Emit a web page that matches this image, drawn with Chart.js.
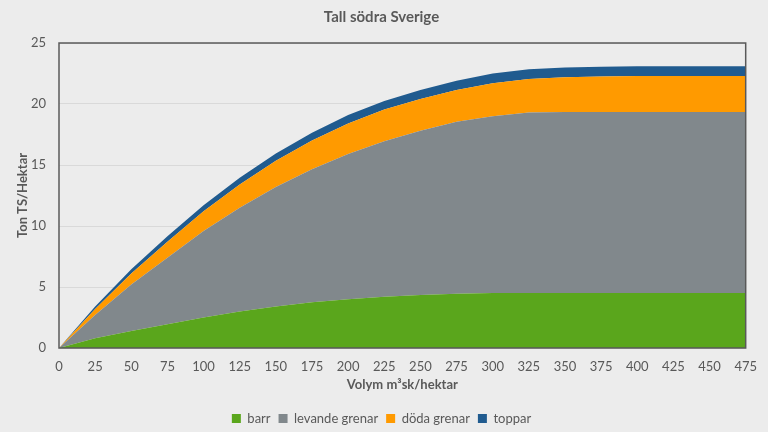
<!DOCTYPE html>
<html>
<head>
<meta charset="utf-8">
<script src="https://cdn.jsdelivr.net/npm/chart.js@4.4.1/dist/chart.umd.min.js"></script>
<style>
  html, body { margin: 0; padding: 0; background: #ececec; }
  #wrap { width: 768px; height: 432px; }
</style>
</head>
<body>
<div id="wrap"><canvas id="c" width="768" height="432"></canvas></div>
<script>
const volym = [0, 25, 50, 75, 100, 125, 150, 175, 200, 225, 250, 275, 300, 325, 350, 375, 400, 425, 450, 475];
const barr = [0, 0.8, 1.4, 1.95, 2.5, 3.0, 3.4, 3.75, 4.0, 4.2, 4.35, 4.45, 4.5, 4.5, 4.5, 4.5, 4.5, 4.5, 4.5, 4.5];
const levandeGrenar = [0, 1.9, 3.8, 5.45, 7.1, 8.5, 9.8, 10.9, 11.9, 12.75, 13.45, 14.1, 14.5, 14.8, 14.85, 14.85, 14.85, 14.85, 14.85, 14.85];
const dodaGrenar = [0, 0.5, 0.9, 1.3, 1.6, 1.9, 2.15, 2.35, 2.5, 2.6, 2.6, 2.6, 2.7, 2.75, 2.85, 2.9, 2.95, 2.95, 2.95, 2.95];
const toppar = [0, 0.2, 0.35, 0.45, 0.5, 0.55, 0.6, 0.65, 0.7, 0.7, 0.75, 0.75, 0.8, 0.8, 0.8, 0.8, 0.8, 0.8, 0.8, 0.8];
const yTicks = [0, 5, 10, 15, 20, 25];

const FONT = "Lato, 'Open Sans', sans-serif";
const TXT = '#595959';

// frame round the plot area
const frame = {
    id: 'frame',
    afterDatasetsDraw(chart) {
        const { ctx, chartArea: a } = chart;
        ctx.save();
        ctx.strokeStyle = '#595959';
        ctx.lineWidth = 1.5;
        ctx.strokeRect(a.left, a.top, a.right - a.left, a.bottom - a.top);
        ctx.restore();
    }
};

const ds = (label, data, color, fill) => ({
    label, data, fill, backgroundColor: color, borderColor: color,
    borderWidth: 0, pointRadius: 0, tension: 0
});

new Chart(document.getElementById('c'), {
    type: 'line',
    data: {
        labels: volym,
        datasets: [
            ds('barr', barr, '#5aa61c', 'origin'),
            ds('levande grenar', levandeGrenar, '#81888c', '-1'),
            ds('döda grenar', dodaGrenar, '#ff9a00', '-1'),
            ds('toppar', toppar, '#205b8f', '-1')
        ]
    },
    options: {
        responsive: false,
        animation: false,
        layout: { padding: { left: 15, right: 20, top: 0, bottom: -3 } },
        plugins: {
            title: { display: true, text: 'Tall södra Sverige', color: TXT, font: { family: FONT, size: 15, weight: 'bold' }, padding: { top: 8, bottom: 17 } },
            legend: {
                position: 'bottom',
                labels: { color: TXT, font: { family: FONT, size: 13 }, boxWidth: 9, boxHeight: 9, padding: 8 }
            },
            tooltip: { enabled: false }
        },
        scales: {
            x: {
                offset: false,
                afterFit: (s) => { s.height = 56; },
                grid: { display: false, drawTicks: false },
                border: { display: true, color: '#d9d9d9' },
                ticks: { color: TXT, font: { family: FONT, size: 13 }, maxRotation: 0, autoSkip: false, padding: 11 },
                title: { display: true, text: 'Volym m³sk/hektar', color: TXT, font: { family: FONT, size: 13, weight: 'bold' }, padding: { top: 2, bottom: 11 } }
            },
            y: {
                stacked: true,
                min: 0, max: 25,
                afterFit: (s) => { s.width = 44; },
                afterBuildTicks: (s) => { s.ticks = yTicks.map(v => ({ value: v })); },
                grid: { color: '#d9d9d9', drawTicks: false },
                border: { display: false },
                ticks: { color: TXT, font: { family: FONT, size: 13 }, padding: 13 },
                title: { display: true, text: 'Ton TS/Hektar', color: TXT, font: { family: FONT, size: 13, weight: 'bold' }, padding: { top: 0, bottom: 2 } }
            }
        }
    },
    plugins: [frame]
});
</script>
</body>
</html>
